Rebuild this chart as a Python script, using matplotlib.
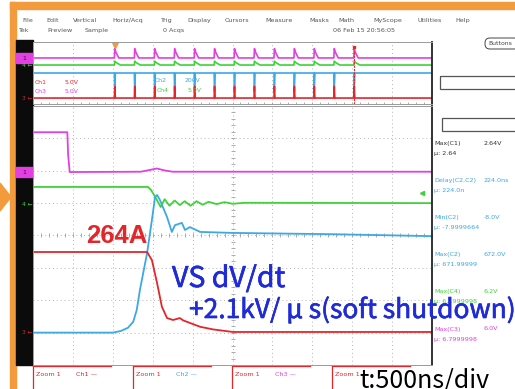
import matplotlib.pyplot as plt
import matplotlib.patheffects as pe
import numpy as np
from matplotlib.patches import Rectangle, FancyBboxPatch, Polygon

W, H = 515, 389

ORANGE = '#f39a3c'
MAG = '#e33fe3'
GRN = '#3fd23a'
BLU = '#3ca8e4'
RED = '#e3262a'
TXT_BLUE = '#1f2bd6'

# zoom window traces: time in divisions (0..10), level in divisions (-4..4)
mag_t = [0.0, 0.86, 0.88, 0.92, 2.7, 2.95, 3.1, 3.3, 3.5, 10.0]
mag_v = [3.19, 3.19, 2.5, 1.96, 1.97, 2.03, 2.07, 2.01, 1.97, 1.97]

grn_t = [0.0, 2.88, 2.95, 3.05, 3.2, 3.3, 3.42, 3.55, 3.68, 3.8, 3.95,
         4.1, 4.25, 4.4, 4.6, 4.8, 5.0, 5.3, 10.0]
grn_v = [1.50, 1.50, 1.42, 1.22, 0.88, 1.12, 0.92, 1.08, 0.94, 1.06, 0.92,
         1.06, 0.95, 1.04, 0.97, 1.03, 0.98, 1.01, 1.0]

blu_t = [0.0, 2.0, 2.2, 2.38, 2.51, 2.6, 2.68, 2.86, 2.98, 3.06, 3.11, 3.18,
         3.36, 3.48, 3.56, 3.73, 3.81, 3.93, 4.19, 5.0, 7.5, 10.0]
blu_v = [-3.0, -3.0, -2.95, -2.85, -2.67, -2.3, -1.68, -0.54, 0.48, 1.19,
         1.25, 1.1, 0.57, 0.11, 0.32, 0.39, 0.17, 0.26, 0.11, 0.08, 0.04, -0.02]

red_t = [0.0, 2.86, 2.98, 3.11, 3.23, 3.36, 3.51, 3.68, 3.76, 3.93, 4.19,
         4.51, 5.01, 10.0]
red_v = [-0.51, -0.51, -0.76, -1.47, -2.2, -2.55, -2.61, -2.55, -2.62, -2.7,
         -2.82, -2.9, -2.98, -2.98]

# overview window: gate pulse times (div) and channel base levels (div)
pulse_t = [2.05, 2.55, 3.05, 3.55, 4.05, 4.55, 5.05, 5.55, 6.05, 6.55, 7.05,
           7.55, 8.05]
ov_levels = {'mag': 1.94, 'grn': 1.03, 'blu': 0.0, 'red': -3.23}

menu_items = ['File', 'Edit', 'Vertical', 'Horiz/Acq', 'Trig', 'Display',
              'Cursors', 'Measure', 'Masks', 'Math', 'MyScope', 'Utilities',
              'Help']
menu_x = [22, 46, 73, 112, 160, 187, 225, 265, 309, 338, 373, 418, 455]

meas_names = ['Max(C1)', 'Delay(C2,C2)', 'Min(C2)', 'Max(C2)', 'Max(C4)', 'Max(C3)']
meas_vals = ['2.64V', '224.0ns', '-8.0V', '672.0V', '6.2V', '6.0V']
meas_mean = ['2.64', '224.0n', '-7.9999664', '671.99999', '6.1999998', '6.7999998']
meas_col = ['#333333', BLU, BLU, BLU, GRN, MAG]

fig = plt.figure(figsize=(W / 100, H / 100), dpi=100)

bg = fig.add_axes([0, 0, 1, 1])
bg.set_xlim(0, W)
bg.set_ylim(H, 0)
bg.axis('off')

# frame of the slide
bg.add_patch(Rectangle((10, 2), W - 10, 7, color=ORANGE))
bg.add_patch(Rectangle((10, 2), 6, H, color=ORANGE))
bg.add_patch(Polygon([(0, 183), (11, 197), (0, 211)], color=ORANGE))
bg.add_patch(Rectangle((16, 40), 17, 325, color='#0b0b0b'))

for name, x in zip(menu_items, menu_x):
    bg.text(x, 20, name, fontsize=4.6, color='#555555', va='center')
for name, x in zip(['Tek', 'Preview', 'Sample', '0 Acqs', '06 Feb 15 20:56:05'],
                   [18, 47, 85, 163, 333]):
    bg.text(x, 30, name, fontsize=4.6, color='#555555', va='center')

bg.add_patch(FancyBboxPatch((485, 38), 34, 11, boxstyle='round,pad=0,rounding_size=5',
                            fc='white', ec='#444444', lw=0.7))
bg.text(488, 43.5, 'Buttons', fontsize=4.4, color='#444444', va='center')
bg.add_patch(Rectangle((440, 76), 80, 13, fill=False, ec='#555555', lw=0.9))
bg.add_patch(Rectangle((442, 118), 80, 13, fill=False, ec='#555555', lw=0.9))

for i, (n, v, m, c) in enumerate(zip(meas_names, meas_vals, meas_mean, meas_col)):
    y = 143 + 37.2 * i
    bg.text(434, y, n, fontsize=4.6, color=c, va='center')
    bg.text(484, y, v, fontsize=4.6, color=c, va='center')
    bg.text(434, y + 10, '\u03bc: ' + m, fontsize=4.6, color=c, va='center')

# channel markers on the black strip
for y, lab, col in [(58, '1', MAG), (172, '1', MAG)]:
    bg.add_patch(Rectangle((16, y - 5), 17, 10, color=col))
    bg.text(22, y, lab, fontsize=4.5, color='#222222', va='center')
for y, lab, col in [(65, '4', GRN), (204, '4', GRN), (98, '3', RED), (332, '3', RED)]:
    bg.text(22, y, lab + ' \u2190', fontsize=4.2, color=col, va='center')

# bottom zoom labels
for x, ch, col in [(33, 'Ch1 \u2014', RED), (133, 'Ch2 \u2014', BLU),
                   (232, 'Ch3 \u2014', MAG), (332, '', RED)]:
    bg.plot([x, x + 78], [366, 366], color=RED, lw=0.9)
    bg.plot([x, x], [366, 389], color=RED, lw=0.9)
    bg.text(x + 3, 375, 'Zoom 1', fontsize=4.6, color=RED, va='center')
    bg.text(x + 43, 375, ch, fontsize=4.6, color=col, va='center')


def px_axes(x0, y0, x1, y1):
    return fig.add_axes([x0 / W, 1 - y1 / H, (x1 - x0) / W, (y1 - y0) / H])


def scope_grid(ax, center_ticks=True):
    ax.set_xlim(0, 10)
    ax.set_ylim(-4, 4)
    ax.set_xticks(np.arange(0, 11))
    ax.set_yticks(np.arange(-4, 5))
    ax.tick_params(length=0, labelbottom=False, labelleft=False)
    ax.grid(True, ls=(0, (1, 3)), color='#b5b5b5', lw=0.7)
    for s in ax.spines.values():
        s.set_color('#9a9a9a')
        s.set_linewidth(0.7)
    ax.spines['right'].set_color('#222222')
    ax.spines['right'].set_linewidth(1.3)
    if center_ticks:
        xs = np.arange(0, 10.01, 0.2)
        ys = np.arange(-4, 4.01, 0.2)
        ax.plot(xs, np.zeros_like(xs), '|', color='#a0a0a0', ms=3, mew=0.6)
        ax.plot(np.full_like(ys, 5.0), ys, '_', color='#a0a0a0', ms=3, mew=0.6)


# overview window
ov = px_axes(33, 42, 432, 104)
scope_grid(ov, center_ticks=False)
ov.set_yticks([])
xs = np.arange(0, 10.01, 0.2)
ov.plot(xs, np.full_like(xs, -4.0), '|', color='#a0a0a0', ms=3, mew=0.6)


def pulse_train(base, amp, width, decay):
    t, v = [0.0], [base]
    for p in pulse_t:
        t += [p - 0.01, p, p + width, p + decay]
        v += [base, base + amp, base + amp * 0.6, base]
    t.append(10.0)
    v.append(base)
    return t, v


for key, col, amp, wdt, dec in [('mag', MAG, 1.2, 0.03, 0.1),
                                 ('grn', GRN, 0.5, 0.04, 0.14),
                                 ('blu', BLU, -2.4, 0.005, 0.015),
                                 ('red', RED, 1.5, 0.005, 0.015)]:
    t, v = pulse_train(ov_levels[key], amp, wdt, dec)
    ov.plot(t, v, color=col, lw=1.2)
ov.plot([2.05], [3.6], marker='v', color=ORANGE, ms=4)
ov.plot([8.05], [3.3], marker='s', color=RED, ms=2)
ov.plot([8.05, 8.05], [-4, 3], color=RED, lw=0.8, ls=(0, (2, 1)))

# zoom window
zm = px_axes(33, 106, 432, 365)
scope_grid(zm)
zm.plot(mag_t, mag_v, color=MAG, lw=1.3)
zm.plot(grn_t, grn_v, color=GRN, lw=1.3)
zm.plot(blu_t, blu_v, color=BLU, lw=1.3)
zm.plot(red_t, red_v, color=RED, lw=1.3)
zm.plot([9.75], [1.3], marker='<', color=GRN, ms=3)

# overlay annotations
top = fig.add_axes([0, 0, 1, 1])
top.set_xlim(0, W)
top.set_ylim(H, 0)
top.axis('off')
top.patch.set_alpha(0)

for x, y, s, c in [(35, 82, 'Ch1', RED), (65, 82, '5.0V', RED),
                   (35, 91, 'Ch3', MAG), (65, 91, '5.0V', MAG),
                   (155, 80, 'Ch2', BLU), (185, 80, '200V', BLU),
                   (157, 90, 'Ch4', GRN), (188, 90, '5.0V', GRN)]:
    top.text(x, y, s, fontsize=4.4, color=c, va='center')

jp = ['Noto Sans CJK JP', 'DejaVu Sans']
thick = [pe.withStroke(linewidth=0.45, foreground=TXT_BLUE)]
top.text(86, 243, '264A', fontsize=18.5, color=RED, fontweight='bold',
         family=['Liberation Sans', 'DejaVu Sans'])
top.text(172, 287, 'VS dV/dt', fontsize=20.5, color=TXT_BLUE, family=jp,
         path_effects=thick)
top.text(189, 318, '+2.1kV/ \u03bc s(soft shutdown)', fontsize=19,
         color=TXT_BLUE, family=jp, path_effects=thick)
top.text(359, 387, 't:500ns/div', fontsize=18, color='black', family=jp)

fig.savefig('out.png', dpi=100)
